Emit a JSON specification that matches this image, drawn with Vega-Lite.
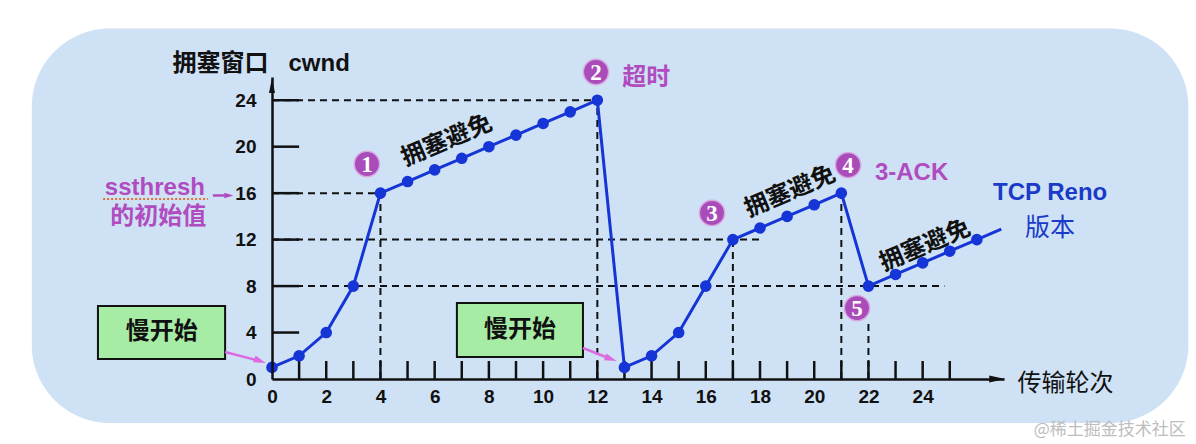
{
  "$schema": "https://vega.github.io/schema/vega-lite/v6.json",
  "width": 732,
  "height": 302,
  "autosize": {"type": "none"},
  "padding": {"left": 272, "top": 77, "right": 192, "bottom": 65},
  "background": "white",
  "config": {"view": {"stroke": null}},
  "datasets": {
    "cwnd": [
      {"round": 0, "cwnd": 1}, {"round": 1, "cwnd": 2}, {"round": 2, "cwnd": 4}, {"round": 3, "cwnd": 8},
      {"round": 4, "cwnd": 16}, {"round": 5, "cwnd": 17}, {"round": 6, "cwnd": 18}, {"round": 7, "cwnd": 19},
      {"round": 8, "cwnd": 20}, {"round": 9, "cwnd": 21}, {"round": 10, "cwnd": 22}, {"round": 11, "cwnd": 23},
      {"round": 12, "cwnd": 24}, {"round": 13, "cwnd": 1}, {"round": 14, "cwnd": 2}, {"round": 15, "cwnd": 4},
      {"round": 16, "cwnd": 8}, {"round": 17, "cwnd": 12}, {"round": 18, "cwnd": 13}, {"round": 19, "cwnd": 14},
      {"round": 20, "cwnd": 15}, {"round": 21, "cwnd": 16}, {"round": 22, "cwnd": 8}, {"round": 23, "cwnd": 9},
      {"round": 24, "cwnd": 10}, {"round": 25, "cwnd": 11}, {"round": 26, "cwnd": 12},
      {"round": 26.9, "cwnd": 12.9, "marker": false}
    ],
    "lines": [
      {"kind": "guide", "x0": 0, "x1": 12, "y0": 24, "y1": 24},
      {"kind": "guide", "x0": 12, "x1": 12, "y0": 0, "y1": 24},
      {"kind": "guide", "x0": 0, "x1": 4, "y0": 16, "y1": 16},
      {"kind": "guide", "x0": 4, "x1": 4, "y0": 0, "y1": 16},
      {"kind": "guide", "x0": 0, "x1": 18.1, "y0": 12, "y1": 12},
      {"kind": "guide", "x0": 17, "x1": 17, "y0": 0, "y1": 12},
      {"kind": "guide", "x0": 0, "x1": 24.8, "y0": 8, "y1": 8},
      {"kind": "guide", "x0": 21, "x1": 21, "y0": 0, "y1": 16},
      {"kind": "guide", "x0": 22, "x1": 22, "y0": 0, "y1": 5},
      {"kind": "tick", "x0": 0, "x1": 1, "y0": 4, "y1": 4},
      {"kind": "tick", "x0": 0, "x1": 1, "y0": 8, "y1": 8},
      {"kind": "tick", "x0": 0, "x1": 1, "y0": 12, "y1": 12},
      {"kind": "tick", "x0": 0, "x1": 1, "y0": 16, "y1": 16},
      {"kind": "tick", "x0": 0, "x1": 1, "y0": 20, "y1": 20},
      {"kind": "tick", "x0": 0, "x1": 1, "y0": 24, "y1": 24},
      {"kind": "tick", "x0": 1, "x1": 1, "y0": 0, "y1": 1.55},
      {"kind": "tick", "x0": 2, "x1": 2, "y0": 0, "y1": 1.55},
      {"kind": "tick", "x0": 3, "x1": 3, "y0": 0, "y1": 1.55},
      {"kind": "tick", "x0": 4, "x1": 4, "y0": 0, "y1": 1.55},
      {"kind": "tick", "x0": 5, "x1": 5, "y0": 0, "y1": 1.55},
      {"kind": "tick", "x0": 6, "x1": 6, "y0": 0, "y1": 1.55},
      {"kind": "tick", "x0": 7, "x1": 7, "y0": 0, "y1": 1.55},
      {"kind": "tick", "x0": 8, "x1": 8, "y0": 0, "y1": 1.55},
      {"kind": "tick", "x0": 9, "x1": 9, "y0": 0, "y1": 1.55},
      {"kind": "tick", "x0": 10, "x1": 10, "y0": 0, "y1": 1.55},
      {"kind": "tick", "x0": 11, "x1": 11, "y0": 0, "y1": 1.55},
      {"kind": "tick", "x0": 12, "x1": 12, "y0": 0, "y1": 1.55},
      {"kind": "tick", "x0": 13, "x1": 13, "y0": 0, "y1": 1.55},
      {"kind": "tick", "x0": 14, "x1": 14, "y0": 0, "y1": 1.55},
      {"kind": "tick", "x0": 15, "x1": 15, "y0": 0, "y1": 1.55},
      {"kind": "tick", "x0": 16, "x1": 16, "y0": 0, "y1": 1.55},
      {"kind": "tick", "x0": 17, "x1": 17, "y0": 0, "y1": 1.55},
      {"kind": "tick", "x0": 18, "x1": 18, "y0": 0, "y1": 1.55},
      {"kind": "tick", "x0": 19, "x1": 19, "y0": 0, "y1": 1.55},
      {"kind": "tick", "x0": 20, "x1": 20, "y0": 0, "y1": 1.55},
      {"kind": "tick", "x0": 21, "x1": 21, "y0": 0, "y1": 1.55},
      {"kind": "tick", "x0": 22, "x1": 22, "y0": 0, "y1": 1.55},
      {"kind": "tick", "x0": 23, "x1": 23, "y0": 0, "y1": 1.55},
      {"kind": "tick", "x0": 24, "x1": 24, "y0": 0, "y1": 1.55},
      {"kind": "tick", "x0": 25, "x1": 25, "y0": 0, "y1": 1.55}
    ],
    "boxes": [
      {"x0": -6.42, "x1": -1.73, "y0": 6.28, "y1": 1.72, "label": "慢开始", "cx": -4.07, "cy": 4.05},
      {"x0": 6.82, "x1": 11.47, "y0": 6.54, "y1": 1.89, "label": "慢开始", "cx": 9.15, "cy": 4.2}
    ],
    "pinkArrows": [
      {"x0": -1.73, "y0": 2.32, "x1": -0.44, "y1": 1.55},
      {"x0": 11.47, "y0": 2.67, "x1": 12.5, "y1": 1.72}
    ],
    "markers": [
      {"x": 3.5, "y": 18.51, "n": "1"},
      {"x": 11.95, "y": 26.43, "n": "2"},
      {"x": 16.23, "y": 14.29, "n": "3"},
      {"x": 21.25, "y": 18.42, "n": "4"},
      {"x": 21.58, "y": 6.11, "n": "5"}
    ]
  },
  "layer": [
    {
      "data": {"values": [{}]},
      "mark": {"type": "rect", "fill": "#cfe2f5", "cornerRadius": 78},
      "encoding": {
        "x": {"datum": -8.86, "type": "quantitative", "scale": {"domain": [0, 27], "nice": false, "zero": false}},
        "x2": {"datum": 33.8},
        "y": {"datum": 30.18, "type": "quantitative", "scale": {"domain": [0, 26], "nice": false, "zero": false}},
        "y2": {"datum": -3.78}
      }
    },
    {
      "data": {"name": "lines"},
      "transform": [{"filter": "datum.kind === 'guide'"}],
      "mark": {"type": "rule", "color": "#111", "strokeWidth": 2, "strokeDash": [7, 5]},
      "encoding": {
        "x": {"field": "x0", "type": "quantitative"},
        "x2": {"field": "x1"},
        "y": {"field": "y0", "type": "quantitative"},
        "y2": {"field": "y1"}
      }
    },
    {
      "data": {"name": "lines"},
      "transform": [{"filter": "datum.kind === 'tick'"}],
      "mark": {"type": "rule", "color": "#111", "strokeWidth": 2.5},
      "encoding": {
        "x": {"field": "x0", "type": "quantitative"},
        "x2": {"field": "x1"},
        "y": {"field": "y0", "type": "quantitative"},
        "y2": {"field": "y1"}
      }
    },
    {
      "data": {"name": "boxes"},
      "mark": {"type": "rect", "fill": "#a6eca4", "stroke": "#111", "strokeWidth": 2},
      "encoding": {
        "x": {"field": "x0", "type": "quantitative"},
        "x2": {"field": "x1"},
        "y": {"field": "y0", "type": "quantitative"},
        "y2": {"field": "y1"}
      }
    },
    {
      "data": {"name": "boxes"},
      "mark": {"type": "text", "font": "Noto Sans CJK SC", "fontSize": 24, "fontWeight": "bold", "color": "#111", "align": "center", "baseline": "middle"},
      "encoding": {
        "x": {"field": "cx", "type": "quantitative"},
        "y": {"field": "cy", "type": "quantitative"},
        "text": {"field": "label"}
      }
    },
    {
      "data": {"name": "pinkArrows"},
      "mark": {"type": "rule", "color": "#dc6ae0", "strokeWidth": 2.5},
      "encoding": {
        "x": {"field": "x0", "type": "quantitative"},
        "x2": {"field": "x1"},
        "y": {"field": "y0", "type": "quantitative"},
        "y2": {"field": "y1"}
      }
    },
    {
      "data": {"name": "pinkArrows"},
      "mark": {"type": "point", "shape": "M-1,-0.6L1,0L-1,0.6Z", "size": 144, "filled": true, "fill": "#dc6ae0", "opacity": 1, "angle": 20},
      "encoding": {
        "x": {"field": "x1", "type": "quantitative"},
        "y": {"field": "y1", "type": "quantitative"}
      }
    },
    {
      "data": {"values": [{}]},
      "mark": {"type": "rule", "color": "#b04cc0", "strokeWidth": 2.5},
      "encoding": {
        "x": {"datum": -2.18, "type": "quantitative"},
        "x2": {"datum": -1.62},
        "y": {"datum": 15.8, "type": "quantitative"}
      }
    },
    {
      "data": {"values": [{}]},
      "mark": {"type": "point", "shape": "M-1,-0.6L1,0L-1,0.6Z", "size": 81, "filled": true, "fill": "#b04cc0", "opacity": 1},
      "encoding": {
        "x": {"datum": -1.59, "type": "quantitative"},
        "y": {"datum": 15.8, "type": "quantitative"}
      }
    },
    {
      "data": {"values": [{}]},
      "mark": {"type": "rule", "color": "#e0703a", "strokeWidth": 2, "strokeDash": [2, 2]},
      "encoding": {
        "x": {"datum": -6.23, "type": "quantitative"},
        "x2": {"datum": -2.36},
        "y": {"datum": 15.5, "type": "quantitative"}
      }
    },
    {
      "data": {"name": "cwnd"},
      "mark": {"type": "line", "color": "#1535d6", "strokeWidth": 3},
      "encoding": {
        "x": {
          "field": "round", "type": "quantitative",
          "scale": {"domain": [0, 27], "nice": false, "zero": false},
          "axis": {
            "values": [0, 2, 4, 6, 8, 10, 12, 14, 16, 18, 20, 22, 24],
            "ticks": false, "labelPadding": 8,
            "labelFlush": false, "labelOverlap": false,
            "title": "传输轮次", "titleX": 745, "titleY": 4, "titleAlign": "left", "titleBaseline": "middle",
            "titleFont": "Noto Sans CJK SC", "titleFontSize": 24, "titleFontWeight": "normal", "titleColor": "#111",
            "domainWidth": 2.5, "domainColor": "#111",
            "labelFont": "Liberation Sans", "labelFontSize": 19, "labelFontWeight": "bold", "labelColor": "#111",
            "grid": false, "zindex": 1
          }
        },
        "y": {
          "field": "cwnd", "type": "quantitative",
          "scale": {"domain": [0, 26], "nice": false, "zero": false},
          "axis": {
            "values": [0, 4, 8, 12, 16, 20, 24],
            "ticks": false, "labelPadding": 16,
            "labelFlush": false, "labelOverlap": false, "labelBaseline": "middle",
            "title": "拥塞窗口\u00a0\u00a0\u00a0cwnd", "titleAngle": 0, "titleX": -100, "titleY": -14, "titleAlign": "left", "titleBaseline": "middle",
            "titleFont": "Liberation Sans, Noto Sans CJK SC", "titleFontSize": 24, "titleFontWeight": "bold", "titleColor": "#111",
            "domainWidth": 2.5, "domainColor": "#111",
            "labelFont": "Liberation Sans", "labelFontSize": 19, "labelFontWeight": "bold", "labelColor": "#111",
            "grid": false, "zindex": 1
          }
        }
      }
    },
    {
      "data": {"name": "cwnd"},
      "transform": [{"filter": "datum.marker !== false"}],
      "mark": {"type": "circle", "size": 135, "color": "#1535d6", "opacity": 1},
      "encoding": {
        "x": {"field": "round", "type": "quantitative"},
        "y": {"field": "cwnd", "type": "quantitative"}
      }
    },
    {
      "data": {"name": "markers"},
      "mark": {"type": "circle", "size": 640, "fill": "#a94cb9", "stroke": "#d9a8e2", "strokeWidth": 1.5, "opacity": 1},
      "encoding": {
        "x": {"field": "x", "type": "quantitative"},
        "y": {"field": "y", "type": "quantitative"}
      }
    },
    {
      "data": {"name": "markers"},
      "mark": {"type": "text", "font": "Liberation Serif", "fontSize": 23, "fontWeight": "bold", "color": "white", "align": "center", "baseline": "middle", "dy": 1},
      "encoding": {
        "x": {"field": "x", "type": "quantitative"},
        "y": {"field": "y", "type": "quantitative"},
        "text": {"field": "n"}
      }
    },
    {
      "data": {"values": [{"x": 13.8, "y": 25.92, "t": "超时"}, {"x": -4.2, "y": 13.95, "t": "的初始值"}]},
      "mark": {"type": "text", "font": "Noto Sans CJK SC", "fontSize": 24, "fontWeight": "bold", "color": "#b04cc0", "align": "center", "baseline": "middle"},
      "encoding": {
        "x": {"field": "x", "type": "quantitative"},
        "y": {"field": "y", "type": "quantitative"},
        "text": {"field": "t"}
      }
    },
    {
      "data": {"values": [{"x": 23.59, "y": 17.74, "t": "3-ACK"}, {"x": -4.32, "y": 16.44, "t": "ssthresh"}]},
      "mark": {"type": "text", "font": "Liberation Sans", "fontSize": 24, "fontWeight": "bold", "color": "#b04cc0", "align": "center", "baseline": "middle"},
      "encoding": {
        "x": {"field": "x", "type": "quantitative"},
        "y": {"field": "y", "type": "quantitative"},
        "text": {"field": "t"}
      }
    },
    {
      "data": {"values": [{"x": 28.7, "y": 16.01, "t": "TCP Reno"}]},
      "mark": {"type": "text", "font": "Liberation Sans", "fontSize": 24, "fontWeight": "bold", "color": "#1a3bc8", "align": "center", "baseline": "middle"},
      "encoding": {
        "x": {"field": "x", "type": "quantitative"},
        "y": {"field": "y", "type": "quantitative"},
        "text": {"field": "t"}
      }
    },
    {
      "data": {"values": [{"x": 28.7, "y": 13.0, "t": "版本"}]},
      "mark": {"type": "text", "font": "Noto Sans CJK SC", "fontSize": 25, "color": "#1a3bc8", "align": "center", "baseline": "middle"},
      "encoding": {
        "x": {"field": "x", "type": "quantitative"},
        "y": {"field": "y", "type": "quantitative"},
        "text": {"field": "t"}
      }
    },
    {
      "data": {"values": [{"x": 6.45, "y": 20.49, "t": "拥塞避免"}, {"x": 19.11, "y": 16.1, "t": "拥塞避免"}, {"x": 24.09, "y": 11.45, "t": "拥塞避免"}]},
      "mark": {"type": "text", "font": "Noto Sans CJK SC", "fontSize": 24, "fontWeight": "bold", "color": "#111", "align": "center", "baseline": "middle", "angle": -23},
      "encoding": {
        "x": {"field": "x", "type": "quantitative"},
        "y": {"field": "y", "type": "quantitative"},
        "text": {"field": "t"}
      }
    },
    {
      "data": {"values": [{"x": 30.9, "y": -4.39, "t": "@稀土掘金技术社区"}]},
      "mark": {"type": "text", "font": "Noto Sans CJK SC", "fontSize": 17, "color": "#bdbdbd", "align": "center", "baseline": "middle"},
      "encoding": {
        "x": {"field": "x", "type": "quantitative"},
        "y": {"field": "y", "type": "quantitative"},
        "text": {"field": "t"}
      }
    },
    {
      "data": {"values": [{}]},
      "mark": {"type": "point", "shape": "M-1,-0.45L1,0L-1,0.45Z", "size": 256, "filled": true, "fill": "#111", "opacity": 1},
      "encoding": {
        "x": {"datum": 26.75, "type": "quantitative"},
        "y": {"datum": 0, "type": "quantitative"}
      }
    },
    {
      "data": {"values": [{}]},
      "mark": {"type": "point", "shape": "M-0.4,1L0,-1L0.4,1Z", "size": 225, "filled": true, "fill": "#111", "opacity": 1},
      "encoding": {
        "x": {"datum": 0, "type": "quantitative"},
        "y": {"datum": 25.27, "type": "quantitative"}
      }
    }
  ]
}
